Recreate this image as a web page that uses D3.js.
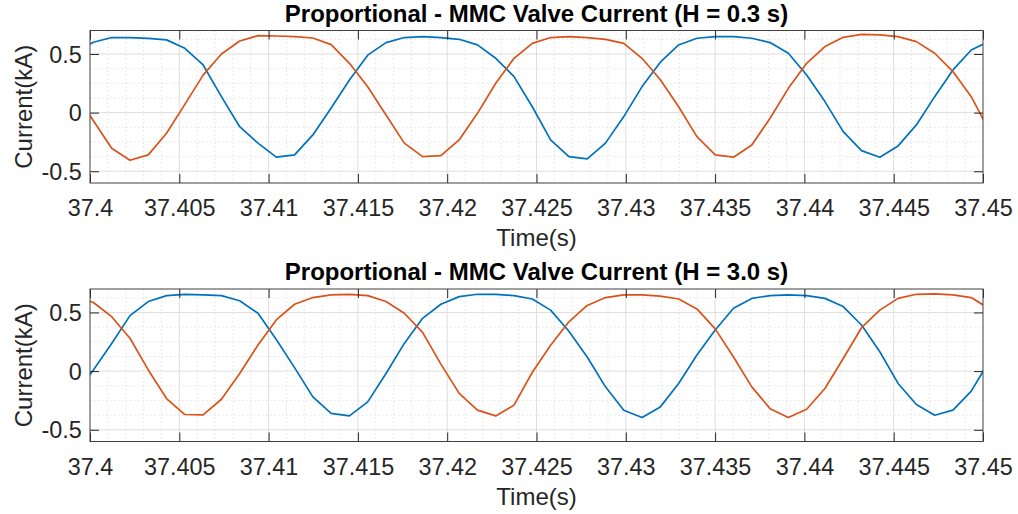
<!DOCTYPE html>
<html>
<head>
<meta charset="utf-8">
<script src="https://cdn.jsdelivr.net/npm/d3@7"></script>
<style>
  html, body { margin: 0; padding: 0; background: #ffffff; }
  svg { display: block; font-family: "Liberation Sans", Arial, Helvetica, sans-serif; }
</style>
</head>
<body>
<svg id="chart" width="1018" height="514"></svg>
<script>
// Sample instants (s), shared by both simulations
const timeS = [
  37.399166, 37.400190, 37.401214, 37.402238, 37.403262, 37.404286, 37.405310, 37.406334,
  37.407358, 37.408382, 37.409406, 37.410430, 37.411454, 37.412478, 37.413502, 37.414526,
  37.415550, 37.416574, 37.417598, 37.418622, 37.419646, 37.420670, 37.421694, 37.422718,
  37.423742, 37.424766, 37.425790, 37.426814, 37.427838, 37.428862, 37.429886, 37.430910,
  37.431934, 37.432958, 37.433982, 37.435006, 37.436030, 37.437054, 37.438078, 37.439102,
  37.440126, 37.441150, 37.442174, 37.443198, 37.444222, 37.445246, 37.446270, 37.447294,
  37.448318, 37.449342, 37.450366
];

// Valve currents (kA), H = 0.3 s
const currentA_H03 = [
  0.52, 0.60, 0.64, 0.64, 0.633, 0.62, 0.548, 0.406, 0.136, -0.12, -0.26, -0.38, -0.36,
  -0.19, 0.04, 0.278, 0.49, 0.597, 0.64, 0.648, 0.64, 0.625, 0.577, 0.463, 0.307, 0.05,
  -0.233, -0.375, -0.395, -0.26, -0.034, 0.222, 0.43, 0.577, 0.634, 0.648, 0.648, 0.634,
  0.597, 0.506, 0.32, 0.094, -0.162, -0.324, -0.38, -0.284, -0.105, 0.136, 0.364, 0.534, 0.61
];
const currentB_H03 = [
  0.17, -0.07, -0.304, -0.406, -0.36, -0.176, 0.07, 0.32, 0.50, 0.61, 0.656, 0.653, 0.648,
  0.636, 0.58, 0.42, 0.22, -0.02, -0.26, -0.375, -0.366, -0.233, -0.006, 0.25, 0.463, 0.59,
  0.64, 0.648, 0.64, 0.625, 0.59, 0.463, 0.28, 0.05, -0.205, -0.36, -0.38, -0.276, -0.048,
  0.207, 0.42, 0.563, 0.642, 0.667, 0.662, 0.648, 0.605, 0.506, 0.35, 0.136, -0.16
];

// Valve currents (kA), H = 3.0 s
const currentA_H30 = [
  -0.2, 0.01, 0.236, 0.473, 0.593, 0.644, 0.655, 0.65, 0.644, 0.6, 0.493, 0.27, 0.03,
  -0.22, -0.36, -0.382, -0.262, -0.02, 0.236, 0.45, 0.57, 0.635, 0.655, 0.655, 0.644, 0.615,
  0.52, 0.34, 0.12, -0.134, -0.333, -0.396, -0.305, -0.105, 0.137, 0.35, 0.536, 0.62, 0.644,
  0.65, 0.644, 0.62, 0.55, 0.393, 0.165, -0.105, -0.285, -0.376, -0.333, -0.171, 0.09
];
const currentB_H30 = [
  0.64, 0.585, 0.464, 0.28, 0.01, -0.234, -0.37, -0.373, -0.24, -0.02, 0.222, 0.436, 0.57,
  0.627, 0.65, 0.655, 0.644, 0.593, 0.493, 0.33, 0.06, -0.19, -0.333, -0.382, -0.29, -0.01,
  0.22, 0.42, 0.56, 0.627, 0.65, 0.65, 0.64, 0.615, 0.53, 0.36, 0.12, -0.134, -0.32, -0.396,
  -0.325, -0.148, 0.108, 0.37, 0.52, 0.62, 0.655, 0.658, 0.65, 0.627, 0.53
];

// Axis settings
const xTicks = [37.4, 37.405, 37.41, 37.415, 37.42, 37.425, 37.43, 37.435, 37.44, 37.445, 37.45];
const xTickLabels = ["37.4", "37.405", "37.41", "37.415", "37.42", "37.425", "37.43", "37.435", "37.44", "37.445", "37.45"];
const yTicks = [-0.5, 0, 0.5];
const yTickLabels = ["-0.5", "0", "0.5"];
const titles = [
  "Proportional - MMC Valve Current (H = 0.3 s)",
  "Proportional - MMC Valve Current (H = 3.0 s)"
];

const COLOR_A = "#0072BD";
const COLOR_B = "#D95319";
const AXIS_COLOR = "#262626";

const svg = d3.select("#chart");
const left = 90, right = 983, plotH = 152.5;
const panelTops = [30.5, 289];
const series = [[currentA_H03, currentB_H03], [currentA_H30, currentB_H30]];

panelTops.forEach((top, p) => {
  const bottom = top + plotH;
  const x = d3.scaleLinear().domain([37.4, 37.45]).range([left, right]);
  const y = d3.scaleLinear().domain([-0.6, 0.7]).range([bottom, top]);
  const g = svg.append("g");

  // Minor grid (dotted)
  const xMinor = d3.range(1, 50).map(i => 37.4 + i * 0.001).filter((v, i) => (i + 1) % 5 !== 0);
  const yMinor = [-0.375, -0.25, -0.125, 0.125, 0.25, 0.375, 0.625];
  g.append("g").selectAll("line").data(xMinor).join("line")
    .attr("x1", d => x(d)).attr("x2", d => x(d)).attr("y1", top).attr("y2", bottom)
    .attr("stroke", "#dcdcdc").attr("stroke-width", 0.8).attr("stroke-dasharray", "1.5,2.5");
  g.append("g").selectAll("line").data(yMinor).join("line")
    .attr("x1", left).attr("x2", right).attr("y1", d => y(d)).attr("y2", d => y(d))
    .attr("stroke", "#dcdcdc").attr("stroke-width", 0.8).attr("stroke-dasharray", "1.5,2.5");

  // Major grid
  g.append("g").selectAll("line").data(xTicks.slice(1, -1)).join("line")
    .attr("x1", d => x(d)).attr("x2", d => x(d)).attr("y1", top).attr("y2", bottom)
    .attr("stroke", "#dedede").attr("stroke-width", 1);
  g.append("g").selectAll("line").data(yTicks).join("line")
    .attr("x1", left).attr("x2", right).attr("y1", d => y(d)).attr("y2", d => y(d))
    .attr("stroke", "#dedede").attr("stroke-width", 1);

  // Curves, clipped to the axes box
  const clipId = "clip" + p;
  svg.append("clipPath").attr("id", clipId).append("rect")
    .attr("x", left).attr("y", top).attr("width", right - left).attr("height", plotH);
  const line = d3.line().x((d, i) => x(timeS[i])).y(d => y(d));
  const curves = g.append("g").attr("clip-path", `url(#${clipId})`);
  curves.append("path").datum(series[p][0]).attr("d", line)
    .attr("fill", "none").attr("stroke", COLOR_A).attr("stroke-width", 1.7).attr("stroke-linejoin", "round");
  curves.append("path").datum(series[p][1]).attr("d", line)
    .attr("fill", "none").attr("stroke", COLOR_B).attr("stroke-width", 1.7).attr("stroke-linejoin", "round");

  // Axes with inward ticks on all four sides
  const fmtX = (d, i) => xTickLabels[i];
  const fmtY = (d, i) => yTickLabels[i];
  const axB = g.append("g").attr("transform", `translate(0,${bottom})`)
    .call(d3.axisBottom(x).tickValues(xTicks).tickFormat(fmtX).tickSizeInner(-9).tickSizeOuter(0));
  const axL = g.append("g").attr("transform", `translate(${left},0)`)
    .call(d3.axisLeft(y).tickValues(yTicks).tickFormat(fmtY).tickSizeInner(-9).tickSizeOuter(0));
  const axT = g.append("g").attr("transform", `translate(0,${top})`)
    .call(d3.axisTop(x).tickValues(xTicks).tickFormat("").tickSizeInner(-9).tickSizeOuter(0));
  const axR = g.append("g").attr("transform", `translate(${right},0)`)
    .call(d3.axisRight(y).tickValues(yTicks).tickFormat("").tickSizeInner(-9).tickSizeOuter(0));
  [axB, axL, axT, axR].forEach(a => {
    a.select(".domain").remove();
    a.selectAll(".tick line").attr("stroke", AXIS_COLOR).attr("stroke-width", 1);
  });
  axT.selectAll("text").remove();
  axR.selectAll("text").remove();
  axB.selectAll("text").attr("y", 33).attr("dy", null)
    .attr("fill", AXIS_COLOR).attr("font-size", "23.4px").attr("font-family", null);
  axL.selectAll("text").attr("x", -8.3).attr("dy", "0.35em")
    .attr("fill", AXIS_COLOR).attr("font-size", "23.4px").attr("font-family", null);

  // Box
  g.append("rect").attr("x", left).attr("y", top).attr("width", right - left).attr("height", plotH)
    .attr("fill", "none").attr("stroke", "#404040").attr("stroke-width", 1);

  // Title and axis labels
  g.append("text").attr("x", (left + right) / 2).attr("y", top - 8.8)
    .attr("text-anchor", "middle").attr("font-weight", "bold").attr("font-size", "24px")
    .attr("fill", "#000").text(titles[p]);
  g.append("text").attr("x", (left + right) / 2).attr("y", top + 215.5)
    .attr("text-anchor", "middle").attr("font-size", "24px").attr("fill", AXIS_COLOR).text("Time(s)");
  g.append("text").attr("transform", `translate(31.5,${(top + bottom) / 2}) rotate(-90)`)
    .attr("text-anchor", "middle").attr("font-size", "24px").attr("fill", AXIS_COLOR).text("Current(kA)");
});
</script>
</body>
</html>
